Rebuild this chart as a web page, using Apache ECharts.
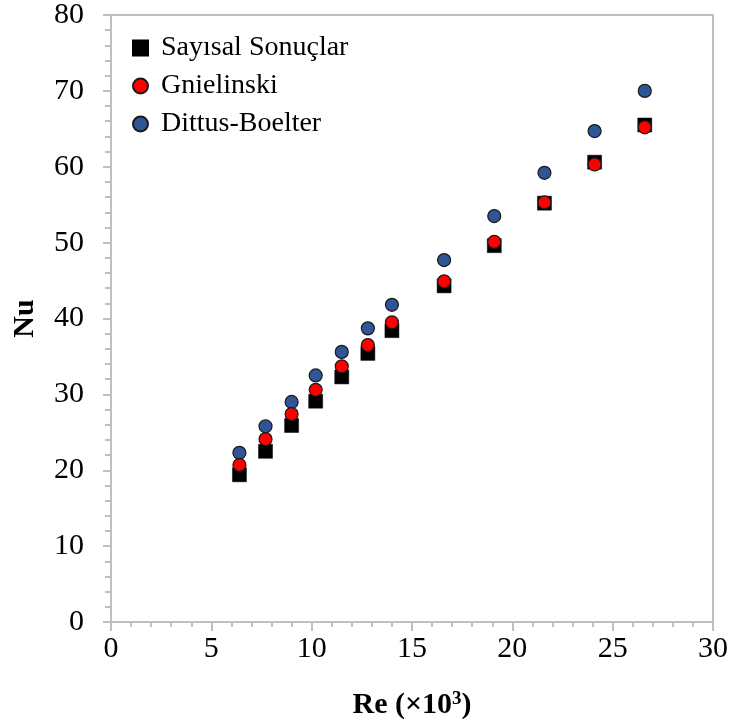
<!DOCTYPE html>
<html><head><meta charset="utf-8">
<script src="https://cdn.jsdelivr.net/npm/echarts@6/dist/echarts.min.js"></script>
<style>html,body{margin:0;padding:0;background:#fff}#c{width:734px;height:727px}</style>
</head><body><div id="c"></div>
<script>
var re = [6.4, 7.7, 9.0, 10.2, 11.5, 12.8, 14.0, 16.6, 19.1, 21.6, 24.1, 26.6];
var nuSayisal = [19.4, 22.5, 25.9, 29.1, 32.3, 35.4, 38.4, 44.3, 49.6, 55.2, 60.6, 65.5];
var nuGnielinski = [20.7, 24.1, 27.4, 30.6, 33.7, 36.5, 39.5, 44.9, 50.1, 55.3, 60.3, 65.2];
var nuDittus = [22.3, 25.8, 29.0, 32.5, 35.6, 38.7, 41.8, 47.7, 53.5, 59.2, 64.7, 70.0];
var seriesNames = ['Sayısal Sonuçlar', 'Gnielinski', 'Dittus-Boelter'];
var xTicks = {min: 0, max: 30, interval: 5};
var yTicks = {min: 0, max: 80, interval: 10};

function pairs(xs, ys){ return xs.map(function(x,i){ return [x, ys[i]]; }); }
var font = '"Liberation Serif", "Times New Roman", serif';
var axisGrey = '#bfbfbf';
var chart = echarts.init(document.getElementById('c'));
chart.setOption({
  animation: false,
  grid: {left: 111, right: 21, top: 15, bottom: 105, show: true, borderColor: axisGrey, borderWidth: 2},
  legend: {
    data: [
      {name: seriesNames[0], icon: 'rect'},
      {name: seriesNames[1], icon: 'circle'},
      {name: seriesNames[2], icon: 'circle'}
    ],
    orient: 'vertical', left: 127, top: 29, itemWidth: 15, itemHeight: 15, itemGap: 10,
    textStyle: {fontFamily: font, fontSize: 28, color: '#000', padding: [0, 0, 0, 8]}
  },
  xAxis: {
    type: 'value', min: xTicks.min, max: xTicks.max, interval: xTicks.interval,
    name: 'Re (×10{sup|3})', nameLocation: 'middle', nameGap: 68,
    nameTextStyle: {fontFamily: font, fontSize: 30, fontWeight: 'bold', color: '#000',
      rich: {sup: {fontFamily: font, fontSize: 19, fontWeight: 'bold', color: '#000', verticalAlign: 'top', padding: [0,0,12,0]}}},
    axisLine: {show: true, lineStyle: {color: axisGrey, width: 2}},
    axisTick: {show: true, length: 9, lineStyle: {color: axisGrey, width: 2}},
    minorTick: {show: true, splitNumber: 5, length: 5, lineStyle: {color: axisGrey, width: 2}},
    splitLine: {show: false},
    axisLabel: {fontFamily: font, fontSize: 30, color: '#000', margin: 12}
  },
  yAxis: {
    type: 'value', min: yTicks.min, max: yTicks.max, interval: yTicks.interval,
    name: 'Nu', nameLocation: 'middle', nameGap: 71, nameRotate: 90,
    nameTextStyle: {fontFamily: font, fontSize: 30, fontWeight: 'bold', color: '#000'},
    axisLine: {show: true, lineStyle: {color: axisGrey, width: 2}},
    axisTick: {show: true, length: 8, lineStyle: {color: axisGrey, width: 2}},
    minorTick: {show: true, splitNumber: 5, length: 6, lineStyle: {color: axisGrey, width: 2}},
    splitLine: {show: false},
    axisLabel: {fontFamily: font, fontSize: 30, color: '#000', margin: 27}
  },
  series: [
    {name: seriesNames[0], type: 'scatter', symbol: 'rect', symbolSize: 14, z: 2,
     itemStyle: {color: '#000', borderColor: '#000', borderWidth: 0.5, opacity: 1}, data: pairs(re, nuSayisal)},
    {name: seriesNames[1], type: 'scatter', symbol: 'circle', symbolSize: 13, z: 4,
     itemStyle: {color: '#ff0000', borderColor: '#1a1a1a', borderWidth: 1.2, opacity: 1}, data: pairs(re, nuGnielinski)},
    {name: seriesNames[2], type: 'scatter', symbol: 'circle', symbolSize: 13, z: 3,
     itemStyle: {color: '#2f5597', borderColor: '#1a1a1a', borderWidth: 1.2, opacity: 1}, data: pairs(re, nuDittus)}
  ]
});
</script></body></html>
